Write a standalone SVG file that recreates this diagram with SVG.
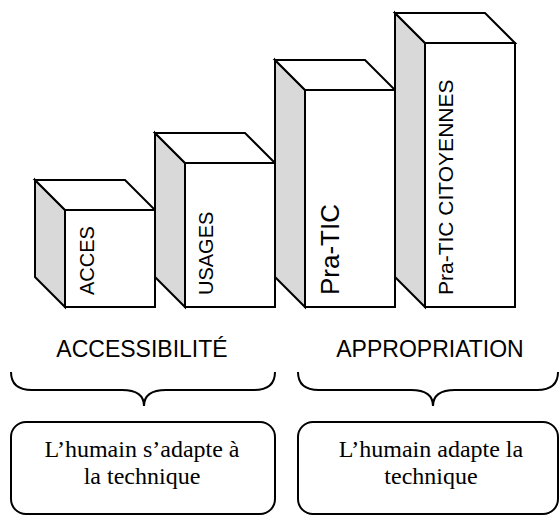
<svg xmlns="http://www.w3.org/2000/svg" width="560" height="516" viewBox="0 0 560 516">
<style>
.face{fill:#fff;stroke:#000;stroke-width:2;stroke-linejoin:miter}
.side{fill:#d9d9d9;stroke:#000;stroke-width:2}
.vt{font-family:"Liberation Sans",Arial,sans-serif;font-size:20px;fill:#000}
.lbl{font-family:"Liberation Sans",Arial,sans-serif;font-size:23px;fill:#000;text-anchor:middle}
.brace{fill:none;stroke:#000;stroke-width:2}
.rbox{fill:#fff;stroke:#000;stroke-width:2}
.ser{font-family:"Liberation Serif","Times New Roman",serif;font-size:24px;fill:#000;text-anchor:middle}
</style>
<rect width="560" height="516" fill="#fff"/>
<g id="acces">
<polygon class="side" points="35,180 65,210 65,307 35,277"/>
<polygon class="face" points="35,180 125,180 155,210 65,210"/>
<rect class="face" x="65" y="210" width="90" height="97"/>
<text class="vt" transform="translate(94,295) rotate(-90)">ACCES</text>
</g>
<g id="usages">
<polygon class="side" points="155,133 185,163 185,307 155,277"/>
<polygon class="face" points="155,133 245,133 275,163 185,163"/>
<rect class="face" x="185" y="163" width="90" height="144"/>
<text class="vt" transform="translate(213,295) rotate(-90)">USAGES</text>
</g>
<g id="pratic">
<polygon class="side" points="275,60 305,90 305,307 275,277"/>
<polygon class="face" points="275,60 365,60 395,90 305,90"/>
<rect class="face" x="305" y="90" width="90" height="217"/>
<text class="vt" style="font-size:26px" transform="translate(339,295) rotate(-90)">Pra-TIC</text>
</g>
<g id="pratic-citoyennes">
<polygon class="side" points="395,13 425,43 425,307 395,277"/>
<polygon class="face" points="395,13 485,13 515,43 425,43"/>
<rect class="face" x="425" y="43" width="90" height="264"/>
<text class="vt" style="font-size:21px" transform="translate(453,295) rotate(-90)">Pra-TIC CITOYENNES</text>
</g>
<g id="accessibilite">
<text class="lbl" x="142" y="357">ACCESSIBILITÉ</text>
</g>
<g id="appropriation">
<text class="lbl" x="430" y="357">APPROPRIATION</text>
</g>
<g id="connectors">
<path class="brace" d="M11,372 Q11,390 32,390 L122,390 Q144,390 144,406 Q144,390 166,390 L254,390 Q275,390 275,372"/>
<path class="brace" d="M298,372 Q298,390 319,390 L411,390 Q433,390 433,406 Q433,390 455,390 L537,390 Q558,390 558,372"/>
</g>
<g id="box-left">
<rect class="rbox" x="11" y="422" width="264" height="92" rx="15"/>
<text class="ser" x="142" y="457">L’humain s’adapte à</text>
<text class="ser" x="142" y="484">la technique</text>
</g>
<g id="box-right">
<rect class="rbox" x="298" y="422" width="260" height="92" rx="15"/>
<text class="ser" x="431" y="457">L’humain adapte la</text>
<text class="ser" x="431" y="484">technique</text>
</g>
</svg>
